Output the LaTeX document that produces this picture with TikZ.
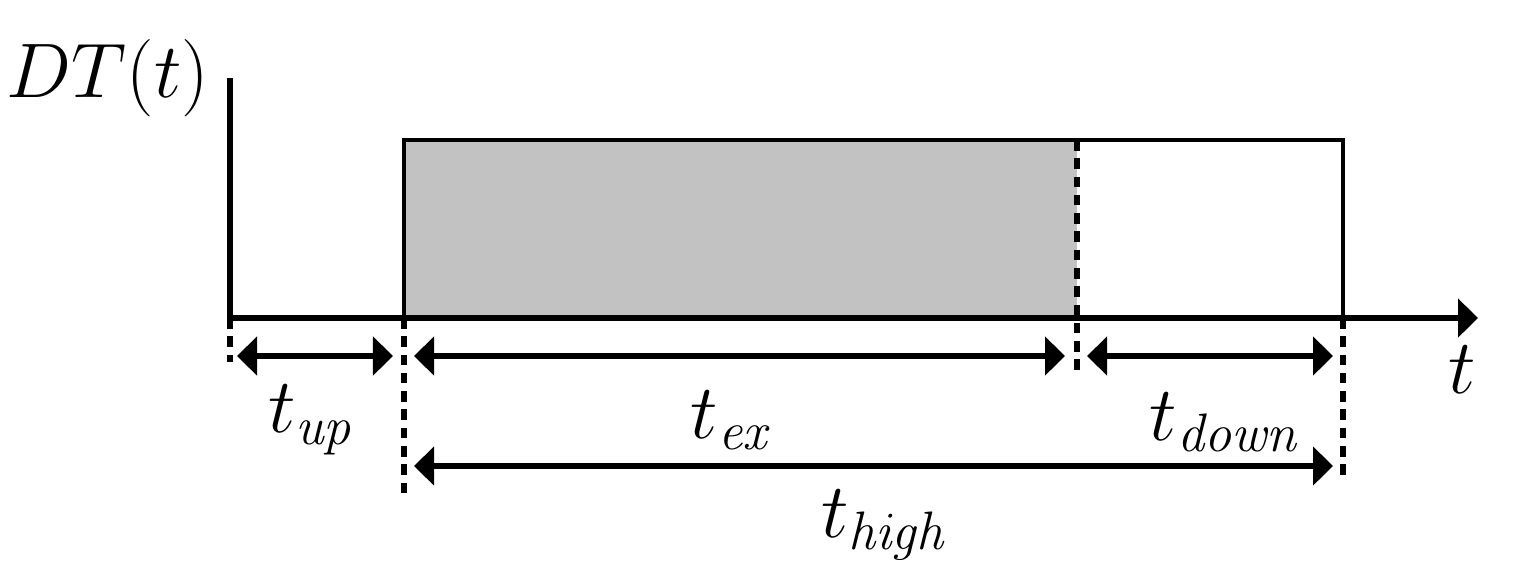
\RequirePackage{fix-cm}
\documentclass[tikz,border=0pt]{standalone}
\usetikzlibrary{arrows.meta}

% time label with a lowered subscript
\newcommand{\tlab}[1]{$t_{\mathit{#1}}$}

\begin{document}
\begin{tikzpicture}[x=0.01cm, y=-0.01cm,
    axis/.style={line width=1.7pt},
    pulse/.style={line width=1.2pt},
    marker/.style={line width=1.6pt, dash pattern=on 3pt off 2.2pt},
    span/.style={line width=1.9pt, {Triangle[length=2mm,width=3.8mm]}-{Triangle[length=2mm,width=3.8mm]}},
    lab/.style={font=\fontsize{22}{26}\selectfont, inner sep=0pt}]
    \useasboundingbox (0,0) rectangle (1516,587);
    \path
    (230,318) node (0) {}
    (230,78) node (ytop) {}
    (1478,318) node (xend) {}
    (404,318) node (1) {}
    (404,140) node (2) {}
    (1077,140) node (3) {}
    (1077,318) node (4) {}
    (1343,140) node (5) {}
    (1343,318) node (6) {}
    (230,362) node (7) {}
    (404,493) node (8) {}
    (1077,376) node (9) {}
    (1343,478) node (10) {}
    (237,356) node (11) {}
    (393,356) node (12) {}
    (414,356) node (13) {}
    (1065,356) node (14) {}
    (1087,356) node (15) {}
    (1333,356) node (16) {}
    (414,466) node (17) {}
    (1333,466) node (18) {};

    \fill[black!24]
    (1.center) rectangle (3.center);

    \draw[pulse]
    (1.center) -- (2.center) -- (5.center) -- (6.center);

    \draw[axis]
    (ytop.center) -- (0.center);
    \draw[axis, -{Triangle[length=2mm,width=3.8mm]}]
    (0.center) -- (xend.center);

    \draw[marker]
    (3.center) -- (9.center)
    (0.center) -- (7.center)
    (1.center) -- (8.center)
    (6.center) -- (10.center);

    \draw[span] (11.center) -- (12.center);
    \draw[span] (13.center) -- (14.center);
    \draw[span] (15.center) -- (16.center);
    \draw[span] (17.center) -- (18.center);

    \node[lab] (dt) at (108,78) {$DT(t)$};
    \node[lab] (t) at (1462,370) {$t$};
    \node[lab] (tup) at (312,420) {\tlab{up}};
    \node[lab] (tex) at (733,420) {\tlab{ex}};
    \node[lab] (tdown) at (1226,422) {\tlab{down}};
    \node[lab] (thigh) at (885,525) {\tlab{high}};
\end{tikzpicture}
\end{document}
